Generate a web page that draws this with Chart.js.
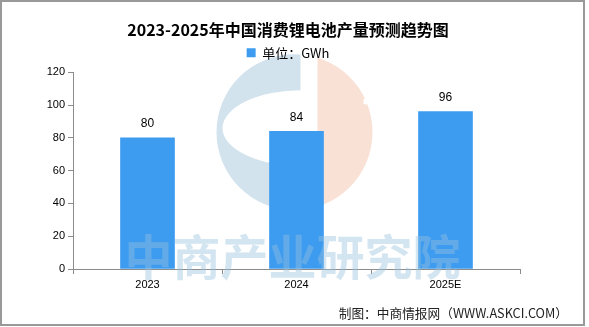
<!DOCTYPE html>
<html>
<head>
<meta charset="utf-8">
<script src="https://cdn.jsdelivr.net/npm/chart.js@4.4.1/dist/chart.umd.min.js"></script>
<style>
  html, body { margin: 0; padding: 0; background: #fff; }
</style>
</head>
<body>
<canvas id="chart" width="589" height="327"></canvas>
<script>
const years = ['2023', '2024', '2025E'];
const output = [80, 84, 96];
const yMax = 120;
const yStep = 20;

const titleText = '2023-2025年中国消费锂电池产量预测趋势图';
const unitLabel = '单位：GWh';
const sourceText = '制图：中商情报网（WWW.ASKCI.COM）';
const watermarkText = '中商产业研究院';

const barColor = '#3d9cf0';
const axisColor = '#8c8c8c';
const tickFont = { family: '"Liberation Sans", Arial, sans-serif', size: 11 };

// white background, grey frame and the faint circle logo (drawn under legend and bars)
const backdrop = {
    id: 'backdrop',
    beforeDraw(chart) {
        const ctx = chart.ctx;
        const a = chart.chartArea;
        ctx.save();
        ctx.fillStyle = '#fff';
        ctx.fillRect(0, 0, chart.width, chart.height);
        ctx.strokeStyle = '#999';
        ctx.lineWidth = 2;
        ctx.strokeRect(1, 1, 583, 324);
        ctx.restore();

        const cx = (a.left + a.right) / 2 - 2;
        const cy = a.top + 60;
        const r = 78;
        ctx.save();
        ctx.beginPath();
        ctx.rect(cx - r - 2, cy - r - 2, r + 8, 2 * r + 4);
        ctx.clip();
        ctx.beginPath();
        ctx.arc(cx, cy, r, 0, Math.PI * 2);
        ctx.ellipse(cx + 8, cy - 4, 80, 38, 0, 0, Math.PI * 2);
        ctx.fillStyle = '#d2e3ee';
        ctx.fill('evenodd');
        ctx.restore();

        ctx.save();
        ctx.beginPath();
        ctx.rect(cx + 23, cy - r - 2, r, 2 * r + 4);
        ctx.clip();
        ctx.beginPath();
        ctx.arc(cx, cy, r, 0, Math.PI * 2);
        ctx.fillStyle = '#f9e1d6';
        ctx.fill();
        ctx.fillStyle = '#fff';
        ctx.fillRect(cx + 69, cy - 33, 20, 5);
        ctx.restore();
    }
};

// big watermark text over the bars
const watermark = {
    id: 'watermark',
    afterDatasetsDraw(chart) {
        const ctx = chart.ctx;
        const a = chart.chartArea;
        ctx.save();
        ctx.font = 'bold 48px "Noto Sans CJK SC", sans-serif';
        ctx.textAlign = 'center';
        ctx.textBaseline = 'middle';
        ctx.fillStyle = 'rgba(150, 192, 222, 0.42)';
        ctx.fillText(watermarkText, (a.left + a.right) / 2 - 4, a.bottom - 12);
        ctx.restore();
    }
};

// value labels above each bar
const valueLabels = {
    id: 'valueLabels',
    afterDatasetsDraw(chart) {
        const ctx = chart.ctx;
        const meta = chart.getDatasetMeta(0);
        ctx.save();
        ctx.font = '12px "Liberation Sans", Arial, sans-serif';
        ctx.fillStyle = '#000';
        ctx.textAlign = 'center';
        ctx.textBaseline = 'middle';
        meta.data.forEach((bar, i) => {
            ctx.fillText(String(output[i]), bar.x, bar.y - 14);
        });
        ctx.restore();
    }
};

// source note, bottom right
const sourceNote = {
    id: 'sourceNote',
    afterDraw(chart) {
        const ctx = chart.ctx;
        ctx.save();
        ctx.font = '12.7px "Noto Sans CJK SC", sans-serif';
        ctx.fillStyle = '#222';
        ctx.textAlign = 'right';
        ctx.textBaseline = 'middle';
        ctx.fillText(sourceText, 568, 313);
        ctx.restore();
    }
};

new Chart(document.getElementById('chart'), {
    type: 'bar',
    data: {
        labels: years,
        datasets: [{
            label: unitLabel,
            data: output,
            backgroundColor: barColor,
            barThickness: 54
        }]
    },
    options: {
        responsive: false,
        animation: false,
        layout: { padding: { left: 0, right: 13, top: 0, bottom: 28 } },
        plugins: {
            title: {
                display: true,
                text: titleText,
                color: '#000',
                font: { family: '"Noto Sans CJK SC", sans-serif', size: 16, weight: 'bold' },
                padding: { top: 20, bottom: 1 }
            },
            legend: {
                display: true,
                labels: {
                    boxWidth: 9,
                    boxHeight: 9,
                    color: '#000',
                    padding: 6,
                    font: { family: '"Noto Sans CJK SC", sans-serif', size: 13 }
                }
            },
            tooltip: { enabled: false }
        },
        scales: {
            x: {
                grid: { drawOnChartArea: false, drawTicks: true, tickLength: 5, color: axisColor, offset: true },
                border: { color: axisColor },
                ticks: { color: '#000', font: tickFont, padding: 4 },
                afterFit(scale) { scale.height = 30; }
            },
            y: {
                min: 0,
                max: yMax,
                ticks: { stepSize: yStep, color: '#000', font: tickFont, padding: 3 },
                grid: { drawOnChartArea: false, drawTicks: true, tickLength: 5, color: axisColor },
                border: { color: axisColor },
                afterFit(scale) { scale.width = 73; }
            },
            // empty axes that only reserve blank margins around the plot
            xTop: {
                position: 'top',
                display: true,
                grid: { display: false },
                border: { display: false },
                ticks: { display: false },
                afterFit(scale) { scale.height = 3; }
            },
            yRight: {
                position: 'right',
                display: true,
                grid: { display: false },
                border: { display: false },
                ticks: { display: false },
                afterFit(scale) { scale.width = 56; }
            }
        }
    },
    plugins: [backdrop, watermark, valueLabels, sourceNote]
});
</script>
</body>
</html>
